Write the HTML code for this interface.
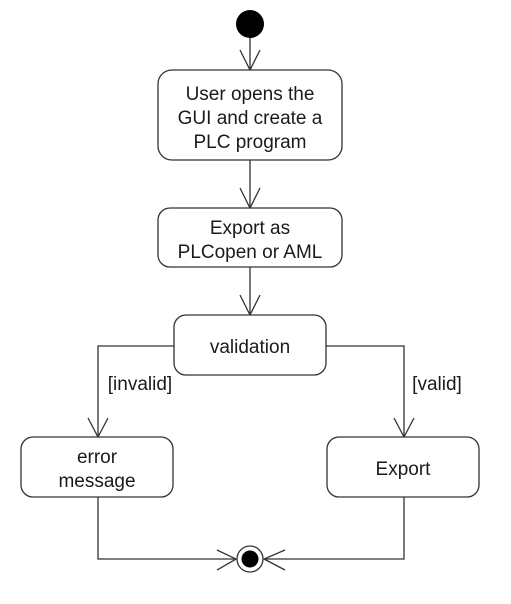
<!DOCTYPE html>
<html><head><meta charset="utf-8"><style>
html,body{margin:0;padding:0;background:#fff;}
text{font-family:"Liberation Sans",sans-serif;font-size:19px;fill:#1a1a1a;}
</style></head><body>
<svg width="511" height="599" viewBox="0 0 511 599" xmlns="http://www.w3.org/2000/svg">
<g stroke="#333" stroke-width="1.3" fill="none">
<circle cx="250" cy="24" r="14" fill="#000" stroke="none"/>
<line x1="250" y1="38" x2="250" y2="70"/>
<polyline points="240,50 250,70 260,50"/>
<rect x="158" y="70" width="184" height="90" rx="14" fill="#fff"/>
<line x1="250" y1="160" x2="250" y2="208"/>
<polyline points="240,188 250,208 260,188"/>
<rect x="158" y="208" width="184" height="59" rx="12" fill="#fff"/>
<line x1="250" y1="267" x2="250" y2="315"/>
<polyline points="240,295 250,315 260,295"/>
<rect x="174" y="315" width="152" height="60" rx="12" fill="#fff"/>
<polyline points="174,346 98,346 98,437"/>
<polyline points="88,418 98,437 108,418"/>
<polyline points="326,346 404,346 404,437"/>
<polyline points="394,418 404,437 414,418"/>
<rect x="21" y="437" width="152" height="60" rx="12" fill="#fff"/>
<rect x="327" y="437" width="152" height="60" rx="12" fill="#fff"/>
<polyline points="98,497 98,559 236,559"/>
<polyline points="404,497 404,559 264,559"/>
<polyline points="217,550 236,559 217,570"/>
<polyline points="285,550 264,559 285,570"/>
<circle cx="250" cy="559" r="13" fill="#fff"/>
<circle cx="250" cy="559" r="8.5" fill="#000" stroke="none"/>
</g>
<g text-anchor="middle">
<text x="250" y="100">User opens the</text>
<text x="250" y="124">GUI and create a</text>
<text x="250" y="148">PLC program</text>
<text x="250" y="234">Export as</text>
<text x="250" y="258">PLCopen or AML</text>
<text x="250" y="353">validation</text>
<text x="97" y="463">error</text>
<text x="97" y="487">message</text>
<text x="403" y="475">Export</text>
<text x="140" y="390">[invalid]</text>
<text x="437" y="390">[valid]</text>
</g>
</svg>
</body></html>
